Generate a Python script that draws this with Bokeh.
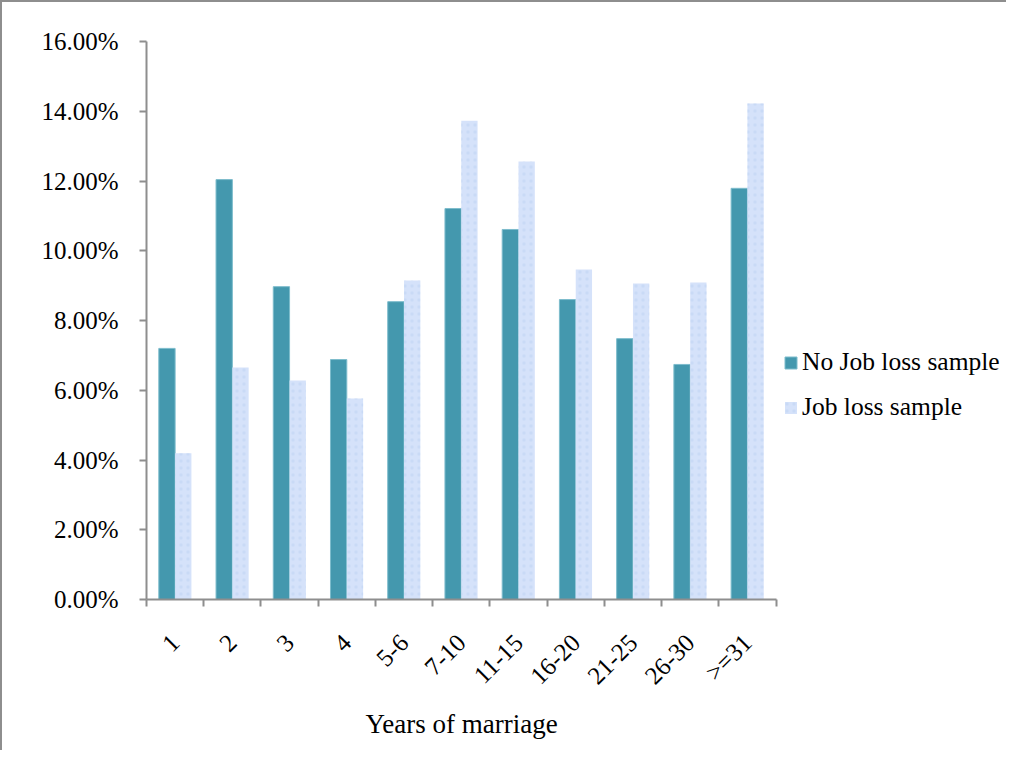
import math
from bokeh.plotting import figure
from bokeh.models import (Range1d, FixedTicker, PrintfTickFormatter,
                          Legend, LegendItem, ColumnDataSource, Title)
from bokeh.transform import dodge
from bokeh.embed import file_html
from bokeh.resources import INLINE

categories = ["1", "2", "3", "4", "5-6", "7-10", "11-15", "16-20", "21-25", "26-30", ">=31"]
no_job_loss = [7.20, 12.04, 8.97, 6.88, 8.54, 11.21, 10.61, 8.60, 7.48, 6.74, 11.79]
job_loss = [4.19, 6.65, 6.28, 5.76, 9.15, 13.73, 12.56, 9.46, 9.06, 9.09, 14.22]
series_names = ["No Job loss sample", "Job loss sample"]
x_title = "Years of marriage"
y_ticks = [0, 2, 4, 6, 8, 10, 12, 14, 16]

FONT = "Liberation Serif"
AXIS_COLOR = "#8e8e8e"
TEAL = "#4498ae"
LIGHT = "#d5e2fa"

n = len(categories)
pos = list(range(1, n + 1))
source = ColumnDataSource(dict(x=pos, no=no_job_loss, job=job_loss))

# plot area spans the full width (legend lives inside it, right of the axis extent)
AXIS_PX = 631.0
FRAME_PX = 864.0
x_end = 0.5 + n * FRAME_PX / AXIS_PX

p = figure(width=1006, height=750, output_backend="svg", toolbar_location=None,
           x_range=Range1d(0.5, x_end), y_range=Range1d(0, 16),
           min_border_left=144, min_border_right=0, min_border_top=39, min_border_bottom=153)
p.styles = {"border-left": "2px solid #8e8e8e", "border-top": "2px solid #8e8e8e"}
p.outline_line_color = None
p.xgrid.visible = False
p.ygrid.visible = False
p.background_fill_color = "white"
p.border_fill_color = "white"

bw = 0.285
r1 = p.vbar(x=dodge("x", -bw / 2, range=p.x_range), top="no", width=bw, source=source,
            fill_color=TEAL, line_color="#7dbccc", line_width=1)
r2 = p.vbar(x=dodge("x", bw / 2, range=p.x_range), top="job", width=bw, source=source,
            fill_color=LIGHT, line_color=None,
            hatch_pattern="dot", hatch_color="#bfd3f3", hatch_scale=7, hatch_alpha=0.55)

# y axis
ya = p.yaxis[0]
ya.ticker = FixedTicker(ticks=y_ticks)
ya.formatter = PrintfTickFormatter(format="%.2f%%")
ya.axis_line_color = AXIS_COLOR
ya.axis_line_width = 2
ya.major_tick_line_color = AXIS_COLOR
ya.major_tick_line_width = 2
ya.major_tick_out = 7
ya.major_tick_in = 0
ya.minor_tick_line_color = None
ya.major_label_text_font = FONT
ya.major_label_text_font_size = "25px"
ya.major_label_text_color = "black"
ya.major_label_standoff = 21

# x axis
xa = p.xaxis[0]
xa.bounds = (0.5, n + 0.5)
xa.ticker = FixedTicker(ticks=pos, minor_ticks=[i + 0.5 for i in range(n + 1)])
xa.major_label_overrides = {k: c for k, c in zip(pos, categories)}
xa.axis_line_color = AXIS_COLOR
xa.axis_line_width = 2
xa.major_tick_line_color = None
xa.major_tick_out = 0
xa.major_tick_in = 0
xa.minor_tick_line_color = AXIS_COLOR
xa.minor_tick_line_width = 2
xa.minor_tick_out = 7
xa.minor_tick_in = 0
xa.major_label_orientation = math.pi / 4
xa.major_label_text_font = FONT
xa.major_label_text_font_size = "25px"
xa.major_label_text_color = "black"
xa.major_label_standoff = 32

# axis title, centred under the category axis (not the whole plot area)
t = Title(text=x_title, align="left", offset=219, standoff=11,
          text_font=FONT, text_font_size="27px", text_font_style="normal",
          text_color="black")
p.add_layout(t, "below")

legend = Legend(items=[LegendItem(label=series_names[0], renderers=[r1]),
                       LegendItem(label=series_names[1], renderers=[r2])],
                location=(637, 177), orientation="vertical")
legend.label_text_font = FONT
legend.label_text_font_size = "25.5px"
legend.label_text_color = "black"
legend.glyph_width = 15
legend.glyph_height = 15
legend.label_standoff = 4
legend.spacing = 15
legend.padding = 0
legend.margin = 0
legend.border_line_color = None
legend.background_fill_alpha = 0
p.add_layout(legend, "center")

open("out.html", "w").write(file_html(p, INLINE))
